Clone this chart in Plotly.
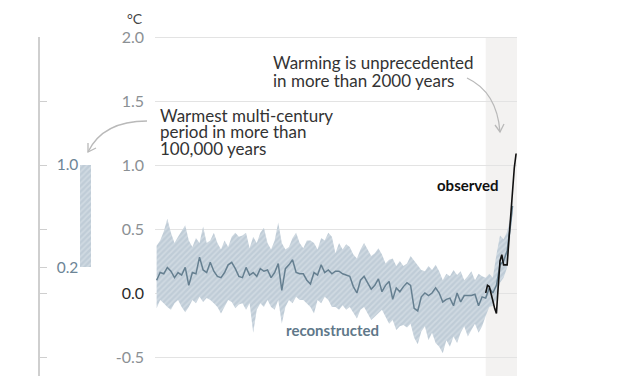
import plotly.graph_objects as go

# ---------------- data ----------------
recon_years = list(range(10, 2000, 20)) + [2000]
recon_mean = [
    0.10, 0.16, 0.15, 0.20, 0.17, 0.12, 0.16, 0.14, 0.20, 0.06, 0.16, 0.15, 0.28, 0.18, 0.16, 0.24, 0.17, 0.13, 0.12, 0.16, 0.22, 0.24, 0.19, 0.13, 0.12,
    0.20, 0.14, 0.16, 0.13, 0.19, 0.17, 0.18, 0.12, 0.16, 0.23, 0.02, 0.19, 0.22, 0.26, 0.16, 0.15, 0.15, 0.10, 0.07, 0.16, 0.14, 0.22, 0.16, 0.18, 0.15,
    0.17, 0.17, 0.15, 0.14, 0.13, 0.05, 0.00, 0.10, 0.13, 0.08, 0.03, 0.06, 0.11, 0.01, 0.06, 0.09, -0.05, 0.04, 0.01, 0.05, 0.08, 0.06, -0.12, -0.14, -0.03,
    0.00, -0.02, 0.00, 0.04, 0.00, -0.07, -0.05, -0.04, -0.10, 0.00, -0.07, -0.02, -0.02, -0.02, -0.01, -0.10, -0.03,
    -0.04, 0.04, 0.00, 0.06, 0.22, 0.25, 0.33, 0.55,
    0.68,
]
recon_upper = [
    0.37, 0.41, 0.48, 0.58, 0.47, 0.39, 0.44, 0.48, 0.53, 0.41, 0.36, 0.43, 0.39, 0.52, 0.39, 0.41, 0.47, 0.39, 0.34, 0.41, 0.36, 0.44, 0.47, 0.44, 0.45,
    0.47, 0.35, 0.44, 0.39, 0.47, 0.51, 0.39, 0.34, 0.41, 0.55, 0.39, 0.34, 0.36, 0.43, 0.47, 0.39, 0.35, 0.41, 0.41, 0.39, 0.34, 0.43, 0.41, 0.47, 0.44,
    0.31, 0.39, 0.34, 0.38, 0.36, 0.30, 0.27, 0.34, 0.39, 0.34, 0.29, 0.31, 0.35, 0.30, 0.23, 0.26, 0.27, 0.21, 0.25, 0.21, 0.23, 0.29, 0.25, 0.21, 0.18,
    0.17, 0.21, 0.18, 0.22, 0.17, 0.10, 0.15, 0.13, 0.18, 0.14, 0.17, 0.10, 0.13, 0.17, 0.10, 0.15, 0.13,
    0.12, 0.15, 0.12, 0.30, 0.45, 0.42, 0.48, 0.60,
    0.72,
]
recon_lower = [
    -0.12, -0.055, -0.08, -0.11, -0.13, -0.08, -0.055, -0.11, -0.15, -0.11, -0.055, -0.08, -0.03, -0.07, -0.04, -0.055, -0.08, -0.11, -0.16, -0.11, -0.055, -0.07, -0.12, -0.09, -0.08,
    -0.13, -0.08, -0.31, -0.13, -0.08, -0.11, -0.055, -0.11, -0.13, -0.055, -0.24, -0.11, -0.055, -0.08, -0.03, -0.055, -0.055, -0.08, -0.11, -0.16, -0.055, -0.08, -0.03, -0.055, -0.11,
    -0.11, -0.13, -0.095, -0.13, -0.11, -0.16, -0.20, -0.13, -0.11, -0.16, -0.21, -0.185, -0.16, -0.13, -0.185, -0.24, -0.21, -0.29, -0.26, -0.25, -0.27, -0.24, -0.35, -0.40, -0.30,
    -0.26, -0.37, -0.31, -0.39, -0.42, -0.47, -0.37, -0.42, -0.34, -0.39, -0.31, -0.26, -0.34, -0.29, -0.24, -0.31, -0.26,
    -0.18, -0.11, -0.10, -0.05, 0.08, 0.12, 0.20, 0.48,
    0.62,
]
obs_years = list(range(1850, 2021, 10))
obs_values = [0.00, 0.06, 0.05, -0.02, -0.06, -0.12, -0.16, 0.05, 0.25, 0.30, 0.22, 0.22, 0.22, 0.42, 0.62, 0.80, 0.98, 1.09]

warm_low, warm_high = 0.2, 1.0
instrumental_start = 1850

y_ticks = [-0.5, 0.0, 0.5, 1.0, 1.5, 2.0]
y_ticktext = ["-0.5", "<span style='color:#2b2b2b'>0.0</span>", "0.5", "1.0", "1.5", "2.0"]
left_ticks = [-0.5, 0.0, 0.2, 0.5, 1.0, 1.5, 2.0]
left_ticktext = ["", "", "0.2", "", "1.0", "", ""]

warmest_lines = ["Warmest multi-century", "period in more than", "100,000 years"]
warming_lines = ["Warming is unprecedented", "in more than 2000 years"]

# ---------------- layout helpers ----------------
# page body has an 8px margin, so the figure starts 8px in from the window corner
OFF = 8
W, H = 627 - OFF, 376 - OFF
def px(x):
    return (x - OFF) / W
def py(y):
    return 1 - (y - OFF) / H

FONT = "Lato, 'Open Sans', sans-serif"
BAND_BG = "#bfccd7"
BAND_FG = "#e2e8ed"
LINE_BLUE = "#657f90"

fig = go.Figure()

# uncertainty band
fig.add_trace(go.Scatter(x=recon_years, y=recon_upper, mode="lines",
                         line=dict(width=0), hoverinfo="skip", showlegend=False))
fig.add_trace(go.Scatter(x=recon_years, y=recon_lower, mode="lines",
                         line=dict(width=0), fill="tonexty", fillcolor=BAND_BG,
                         fillpattern=dict(shape="/", bgcolor=BAND_BG, fgcolor=BAND_FG,
                                          size=4, solidity=0.4),
                         hoverinfo="skip", showlegend=False))
# reconstructed mean
fig.add_trace(go.Scatter(x=recon_years, y=recon_mean, mode="lines",
                         line=dict(color=LINE_BLUE, width=1.5), showlegend=False))
# observed
fig.add_trace(go.Scatter(x=obs_years, y=obs_values, mode="lines",
                         line=dict(color="#111111", width=1.6), showlegend=False))

# left panel bar
fig.add_trace(go.Bar(x=[45.5], y=[warm_high - warm_low], base=[warm_low], width=[11],
                     xaxis="x2", yaxis="y2",
                     marker=dict(color=BAND_BG, line=dict(width=0),
                                 pattern=dict(shape="/", bgcolor=BAND_BG, fgcolor=BAND_FG,
                                              size=4, solidity=0.4)),
                     showlegend=False, hoverinfo="skip"))

PXU = 128.0  # pixels per degree
ymax = 2.0 + (37 - OFF) / PXU
ymin = -(376 - 293) / PXU

fig.update_layout(
    width=W, height=H,
    margin=dict(l=0, r=0, t=0, b=0),
    paper_bgcolor="white", plot_bgcolor="white",
    font=dict(family=FONT, color="#333333"),
    bargap=0,
    xaxis=dict(domain=[px(155), px(517)], range=[1, 2025], visible=False,
               showgrid=False, zeroline=False),
    yaxis=dict(range=[ymin, ymax], tickvals=y_ticks, ticktext=y_ticktext,
               showgrid=True, gridcolor="#e3e3e3", gridwidth=1, zeroline=False,
               showline=False, ticks="", ticklabelstandoff=10,
               tickfont=dict(family=FONT, size=16, color="#8b9094")),
    xaxis2=dict(domain=[px(40), px(100)], range=[0, 60], visible=False,
                anchor="y2"),
    yaxis2=dict(domain=[0, py(37)], range=[ymin, 2.0], anchor="x2",
                tickvals=left_ticks, ticktext=left_ticktext,
                showgrid=False, zeroline=False, showline=True,
                linecolor="#cfcfcf", linewidth=1.5,
                ticks="inside", ticklen=7, tickcolor="#cfcfcf", tickwidth=1.2,
                ticklabelposition="inside", ticklabelstandoff=10,
                tickfont=dict(family=FONT, size=15.5, color="#6d8596")),
)

# shaded instrumental period
fig.add_shape(type="rect", xref="x", yref="y", x0=instrumental_start, x1=2025,
              y0=ymin, y1=2.0, fillcolor="#f3f2f1", line=dict(width=0), layer="below")

# curved arrows
ARROW = dict(color="#b9b9b9", width=1.3)
fig.add_shape(type="path", xref="paper", yref="paper",
              path=f"M {px(147)},{py(121)} Q {px(103)},{py(121)} {px(88)},{py(152)}",
              line=ARROW)
fig.add_shape(type="path", xref="paper", yref="paper",
              path=f"M {px(96)},{py(148)} L {px(88)},{py(152)} L {px(88)},{py(143)}",
              line=ARROW)
fig.add_shape(type="path", xref="paper", yref="paper",
              path=f"M {px(467)},{py(78)} Q {px(497)},{py(92)} {px(500)},{py(132)}",
              line=ARROW)
fig.add_shape(type="path", xref="paper", yref="paper",
              path=f"M {px(495)},{py(125)} L {px(500)},{py(132)} L {px(504)},{py(124)}",
              line=ARROW)

# texts
fig.add_annotation(x=px(135), y=py(8), xref="paper", yref="paper", text="°C",
                   showarrow=False, xanchor="center", yanchor="top",
                   font=dict(family=FONT, size=14, color="#444444"))
for i, t in enumerate(warmest_lines):
    fig.add_annotation(x=px(158), y=py(116 + 16 * i), xref="paper", yref="paper", text=t,
                       showarrow=False, xanchor="left", yanchor="middle",
                       font=dict(family=FONT, size=17, color="#333333"))
for i, t in enumerate(warming_lines):
    fig.add_annotation(x=px(271), y=py(63 + 17 * i), xref="paper", yref="paper", text=t,
                       showarrow=False, xanchor="left", yanchor="middle",
                       font=dict(family=FONT, size=17, color="#333333"))
fig.add_annotation(x=px(501), y=py(185), xref="paper", yref="paper", text="<b>observed</b>",
                   showarrow=False, xanchor="right", yanchor="middle",
                   font=dict(family=FONT, size=15, color="#111111"))
fig.add_annotation(x=px(284), y=py(330), xref="paper", yref="paper", text="<b>reconstructed</b>",
                   showarrow=False, xanchor="left", yanchor="middle",
                   font=dict(family=FONT, size=15, color="#5f7889"))

fig.write_html("out.html")
